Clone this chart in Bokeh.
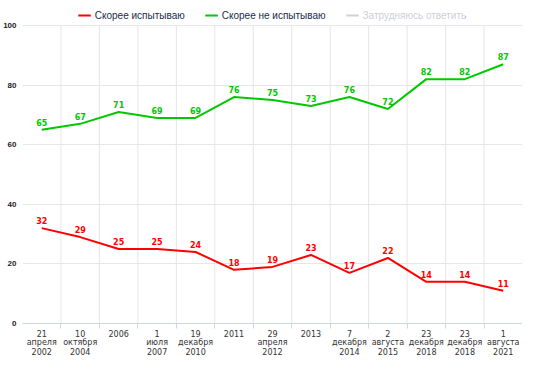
from bokeh.plotting import figure
from bokeh.models import (Range1d, FixedTicker, Legend, LegendItem, ColumnDataSource, LinearAxis)
from bokeh.core.properties import value
from bokeh.embed import file_html
from bokeh.resources import INLINE

label_day = ["21", "10", "2006", "1", "19", "2011", "29", "2013", "7", "2", "23", "23", "1"]
label_month = ["апреля", "октября", "", "июля", "декабря", "", "апреля", "",
               "декабря", "августа", "декабря", "декабря", "августа"]
label_year = ["2002", "2004", "", "2007", "2010", "", "2012", "", "2014", "2015",
              "2018", "2018", "2021"]
experience = [32, 29, 25, 25, 24, 18, 19, 23, 17, 22, 14, 14, 11]
no_experience = [65, 67, 71, 69, 69, 76, 75, 73, 76, 72, 82, 82, 87]
hard_to_say = [3, 4, 4, 6, 7, 6, 6, 4, 7, 6, 4, 4, 2]
y_ticks = [0, 20, 40, 60, 80, 100]

RED = "#ff0000"
GREEN = "#00c800"

xs = list(range(len(label_day)))
bounds = [i + 0.5 for i in xs[:-1]]
y_top = y_ticks[-1]

p = figure(width=522, height=357, output_backend="svg", toolbar_location=None,
           x_range=Range1d(-0.5, len(xs) - 0.5), y_range=Range1d(0, 108.4),
           x_axis_location=None,
           min_border_left=22, min_border_right=0, min_border_top=0, min_border_bottom=0)
p.outline_line_color = None

# vertical grid lines between categories, up to the top tick
p.segment(x0=bounds, y0=[0] * len(bounds), x1=bounds, y1=[y_top] * len(bounds),
          line_color="#e6e6e6", line_width=1, level="underlay")

src_r = ColumnDataSource(dict(x=xs, y=experience, t=[str(v) for v in experience]))
src_g = ColumnDataSource(dict(x=xs, y=no_experience, t=[str(v) for v in no_experience]))
src_n = ColumnDataSource(dict(x=xs, y=hard_to_say))

r_red = p.line("x", "y", source=src_r, line_color=RED, line_width=2)
r_green = p.line("x", "y", source=src_g, line_color=GREEN, line_width=2)
r_gray = p.line("x", "y", source=src_n, line_color="#444444", line_width=2)
r_gray.visible = False

for src, col in ((src_r, RED), (src_g, GREEN)):
    p.text("x", "y", text="t", source=src, text_color=col, text_align="center",
           text_baseline="bottom", y_offset=-4, text_font=value("DejaVu Sans"),
           text_font_size="8px", text_font_style="bold")

xt = FixedTicker(ticks=xs, minor_ticks=bounds)

for k, labels in enumerate((label_day, label_month, label_year)):
    ax = LinearAxis(ticker=xt, major_label_overrides={i: s for i, s in zip(xs, labels)})
    ax.axis_label = None
    ax.major_tick_line_color = None
    ax.major_tick_out = 0
    ax.major_tick_in = 0
    ax.major_label_text_font = "DejaVu Sans"
    ax.major_label_text_font_size = "8px"
    ax.major_label_text_color = "#333333"
    if k == 0:
        ax.axis_line_color = "#ccd6eb"
        ax.minor_tick_line_color = "#ccd6eb"
        ax.minor_tick_out = 5
        ax.minor_tick_in = 0
        ax.major_label_standoff = 1
    else:
        ax.axis_line_color = None
        ax.minor_tick_line_color = None
        ax.minor_tick_out = 0
        ax.minor_tick_in = 0
        ax.major_label_standoff = -2
    p.add_layout(ax, "below")

p.xgrid.visible = False

p.yaxis.ticker = FixedTicker(ticks=y_ticks)
p.yaxis.axis_line_color = None
p.yaxis.major_tick_line_color = None
p.yaxis.minor_tick_line_color = None
p.yaxis.major_tick_out = 0
p.yaxis.major_label_text_font = "Liberation Sans"
p.yaxis.major_label_text_font_style = "bold"
p.yaxis.major_label_text_font_size = "8px"
p.yaxis.major_label_text_color = "#222222"
p.yaxis.major_label_standoff = 6
p.ygrid.grid_line_color = "#e6e6e6"

legend = Legend(items=[LegendItem(label="Скорее испытываю", renderers=[r_red]),
                       LegendItem(label="Скорее не испытываю", renderers=[r_green]),
                       LegendItem(label="Затрудняюсь ответить", renderers=[r_gray])],
                orientation="horizontal", location="top_center", click_policy="hide",
                label_text_font="Liberation Sans", label_text_font_size="10px",
                label_text_color="#1a2b4c", glyph_width=13, glyph_height=12,
                label_height=12, label_standoff=4, spacing=20, padding=0, margin=9,
                border_line_color=None, background_fill_alpha=0,
                inactive_fill_color="white", inactive_fill_alpha=0.76)
p.add_layout(legend, "center")

open("out.html", "w").write(file_html(p, INLINE))
